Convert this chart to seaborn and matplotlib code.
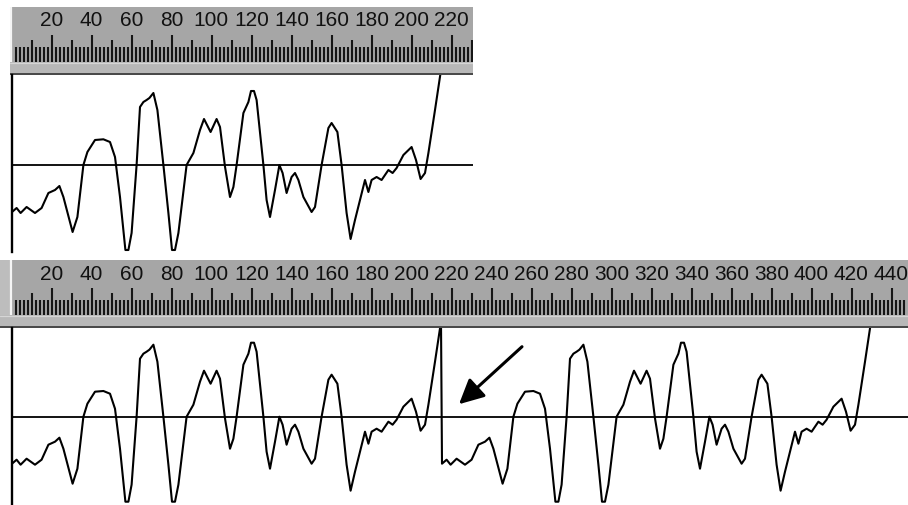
import numpy as np
import pandas as pd
import matplotlib
matplotlib.use("Agg")
import matplotlib.pyplot as plt
import seaborn as sns
from matplotlib import font_manager

# ---- data -------------------------------------------------------------
WAVE_T = [0, 2.3, 4.3, 7.3, 11.5, 14.8, 18.2, 21.5, 23.7, 25.7,
          30.3, 32.7, 35.7, 37.7, 41.5, 45.7, 49, 51.5, 54, 56.7, 58.2,
          59.8, 62.3, 64, 65.7, 67.3, 68.7, 70.7, 72.7, 75.7, 78.2,
          80, 81.5, 83.2, 87.3, 90.7, 94, 96, 99.3, 102.3, 104, 106.5,
          109, 110.7, 112.3, 115.7, 118.2, 119.5, 121, 122.3, 125.7, 127.3, 129,
          131.5, 133.7, 135.3, 137.3, 139.8, 141.5, 143.2, 145.7, 149.8, 151.5,
          154.8, 158.2, 159.8, 162.7, 164.8, 167.3, 169.3, 171.5, 174, 176.5,
          178.2, 179.8, 182.3, 184.8, 188.2, 190.3, 192.3, 195.7, 199.8, 202,
          204.3, 206.5, 208.2, 211.5, 214.5]
WAVE_V = [-47, -43, -48, -42, -48, -43, -28, -25, -21, -32,
          -67, -52, 0, 13, 25, 25.7, 23, 8, -32, -85, -85,
          -68, 0, 58, 63, 65, 67, 72, 55, 0, -48,
          -85, -85, -68, 0, 12, 35, 46, 33, 46, 38, -1.7,
          -32, -22, 0, 52, 63, 74, 74, 65, 0, -35, -52,
          -25, 0, -8, -28, -12, -8, -15, -32, -47, -42,
          0, 37, 42, 33, 0, -48, -74, -55, -35, -15,
          -27, -15, -12, -15, -5, -8, -3, 10, 18, 5,
          -14, -8, 12, 55, 95]
LOOP_PERIOD = 215
TOP_LABELS = [20, 40, 60, 80, 100, 120, 140, 160, 180, 200, 220]
BOTTOM_LABELS = [20, 40, 60, 80, 100, 120, 140, 160, 180, 200, 220,
                 240, 260, 280, 300, 320, 340, 360, 380, 400, 420, 440]
ARROW_TAIL = (255, 70)
ARROW_HEAD = (223.5, 12.5)

assert len(WAVE_T) == len(WAVE_V)

top_df = pd.DataFrame({"t": WAVE_T, "v": WAVE_V})
loop_df = pd.DataFrame({
    "t": WAVE_T + [x + LOOP_PERIOD for x in WAVE_T],
    "v": WAVE_V + WAVE_V,
})

# ---- figure -------------------------------------------------------------
sns.set_style("white")
W, H = 908, 505
fig = plt.figure(figsize=(W / 100, H / 100), dpi=100)
fig.patch.set_facecolor("white")


def px_axes(x0, y0, x1, y1):
    return fig.add_axes([x0 / W, 1 - y1 / H, (x1 - x0) / W, (y1 - y0) / H])


def t_of(px):
    return (px - 12) / 2.0


avail = {f.name for f in font_manager.fontManager.ttflist}
label_font = "Liberation Sans Narrow" if "Liberation Sans Narrow" in avail else "Liberation Sans"

GRAY = "#a6a6a6"


def ruler(x0, y0, x1, labels, lead=False):
    ax = px_axes(x0, y0, x1, y0 + 68)
    ax.set_xlim(t_of(x0), t_of(x1))
    ax.set_ylim(68, 0)
    ax.set_facecolor(GRAY)
    for s in ax.spines.values():
        s.set_visible(False)
    ax.set_xticks([])
    ax.set_yticks([])
    if lead:
        ax.axvspan(t_of(x0), t_of(10), ymin=(68 - 55) / 68, ymax=1, color="#bdbdbd", lw=0)
    ax.vlines(t_of(11), 0, 55, color="#f4f4f4", lw=1.6)
    ax.axhspan(55, 66, color="#b8b8b8", lw=0)
    ax.axhline(55.6, color="#d6d6d6", lw=0.9)
    ax.axhspan(66, 68, color="#4a4a4a", lw=0)
    tmax = t_of(x1)
    pos = np.arange(2, tmax, 2)
    tops = [28 if p % 20 == 0 else (33 if p % 10 == 0 else 40) for p in pos]
    ax.vlines(pos, tops, 55, color="#161616", lw=1.5)
    for lab in labels:
        ax.text(lab - 0.3, 14, str(lab), ha="center", va="center",
                fontsize=15, family=label_font, color="#111111", clip_on=True)
    return ax


def wave_axes(x0, y0, x1, y1, zero_px):
    ax = px_axes(x0, y0, x1, y1)
    ax.set_xlim(0, t_of(x1))
    ax.set_ylim(zero_px - y1, zero_px - y0)
    ax.set_facecolor("white")
    for k, s in ax.spines.items():
        s.set_visible(k == "left")
    ax.spines["left"].set_color("black")
    ax.spines["left"].set_linewidth(1.7)
    ax.set_xticks([])
    ax.set_yticks([])
    ax.axhline(0, color="black", lw=1.3, zorder=1)
    return ax


# top panel
ruler(10, 7, 473, TOP_LABELS)
ax_top = wave_axes(12, 75, 473, 252, 165)
sns.lineplot(data=top_df, x="t", y="v", ax=ax_top, color="black", lw=1.5,
             estimator=None, sort=False)
ax_top.set_xlabel("")
ax_top.set_ylabel("")

# bottom panel
ruler(0, 260, 908, BOTTOM_LABELS, lead=True)
ax_bot = wave_axes(12, 328, 908, 505, 416.7)
sns.lineplot(data=loop_df, x="t", y="v", ax=ax_bot, color="black", lw=1.5,
             estimator=None, sort=False)
ax_bot.set_xlabel("")
ax_bot.set_ylabel("")
ax_bot.annotate("", xy=ARROW_HEAD, xytext=ARROW_TAIL,
                arrowprops=dict(arrowstyle="-|>,head_length=1.0,head_width=0.5",
                                lw=2.2, color="black", mutation_scale=15,
                                shrinkA=0, shrinkB=0))

fig.savefig("out.png", dpi=100, facecolor="white")
